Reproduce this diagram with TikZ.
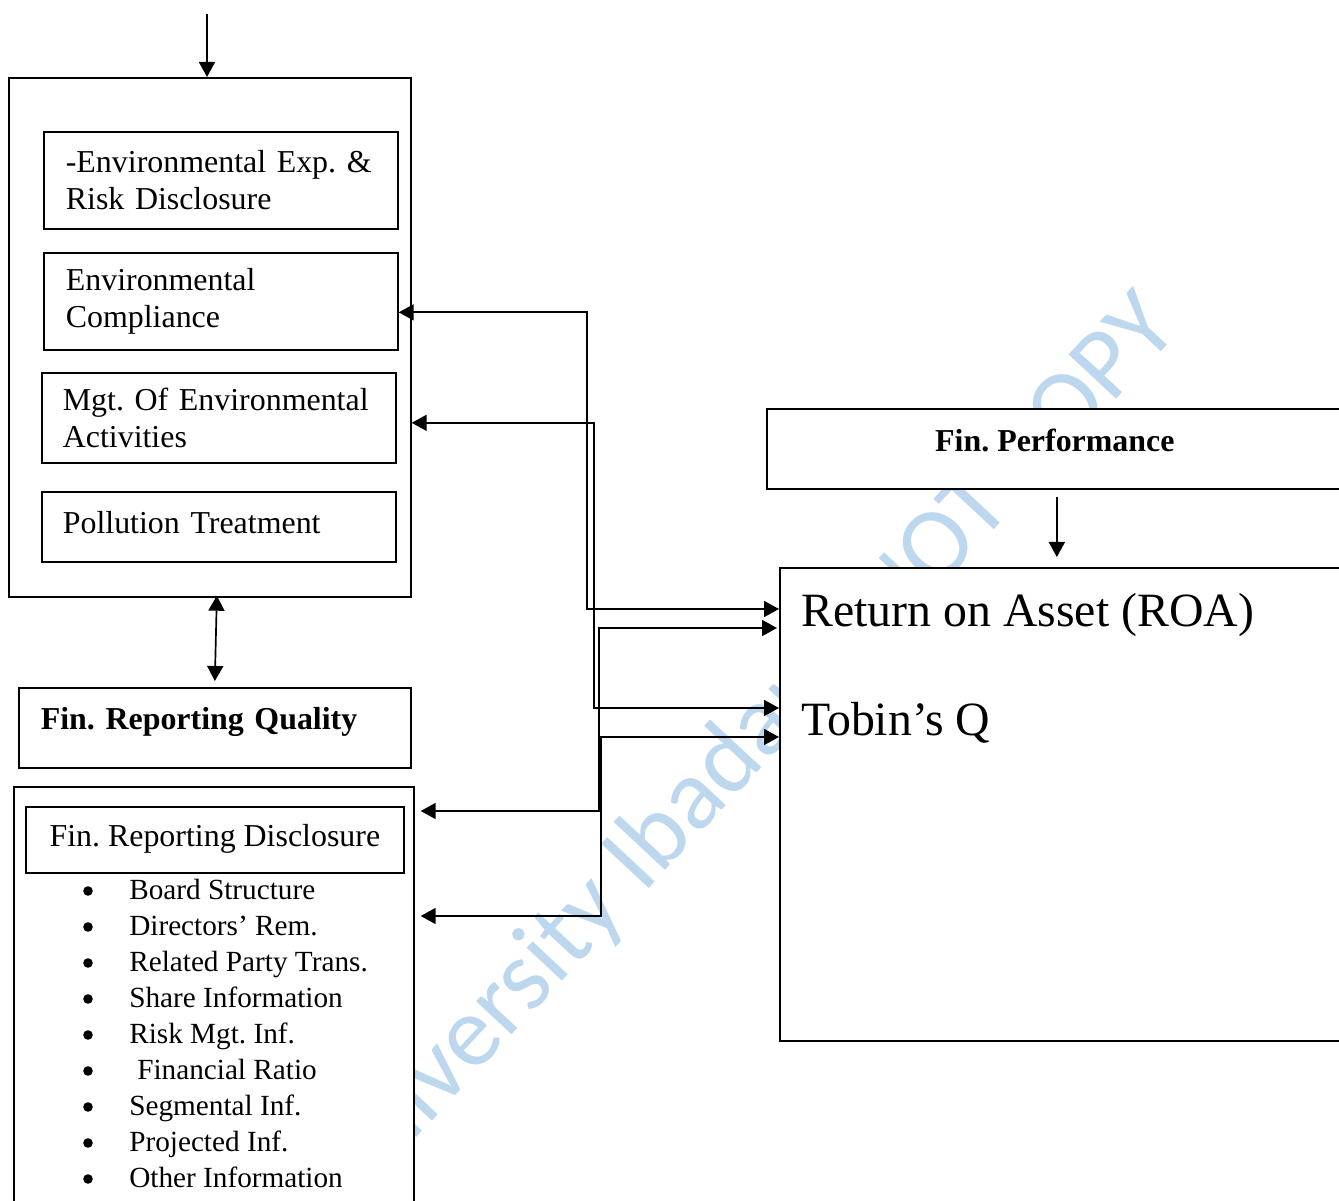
\documentclass[tikz,border=0pt]{standalone}
\usepackage{fontspec}
\setmainfont{Liberation Serif}
\newfontfamily\wmfont{Carlito}
\usetikzlibrary{calc,arrows.meta}
\definecolor{wmblue}{RGB}{189,215,238}
\frenchspacing
\tikzset{
	box/.style={draw, line width=1.2pt, fill=white, inner sep=0pt, anchor=north west},
	twoline/.style={box, align=left, inner xsep=5.5mm, font=\fontsize{22.7}{26}\selectfont},
	oneline/.style={box, inner ysep=0pt, font=\fontsize{22.7}{26}\selectfont},
	boldline/.style={oneline, font=\fontsize{22.7}{26}\selectfont\bfseries},
	bigtxt/.style={anchor=base west, inner sep=0pt, font=\fontsize{34}{40}\selectfont},
	item/.style={anchor=base west, inner sep=0pt, font=\fontsize{20.8}{26}\selectfont},
	dot/.style={circle, fill=black, inner sep=0pt, minimum size=2.4mm},
	arr/.style={line width=1.2pt, -{Triangle[length=3.75mm,width=4mm]}},
	dblarr/.style={line width=1.2pt, {Triangle[length=3.75mm,width=4mm]}-{Triangle[length=3.75mm,width=4mm]}},
	wmark/.style={color=wmblue, rotate=47, inner sep=0pt, font=\wmfont\fontsize{72}{72}\selectfont}
}

\begin{document}
\begin{tikzpicture}[x=0.25mm, y=-0.25mm]
		%%%%% START %%%%%
		\clip (0,0) rectangle (1339,1201);
		
		% watermark
		\node[wmark, anchor=base east] (wm1) at (836,688) {University Ibadan};
		\node[wmark, anchor=base west] (wm2) at (892,640) {NOT COPY};
		
		% environmental side
		\node[box, minimum width=100.5mm, minimum height=129.75mm] (env) at (8,77) {};
		\node[twoline, text width=77.5mm, minimum height=24.25mm] (exp) at (43,131) {-Environmental~Exp.~\&\\Risk Disclosure};
		\node[twoline, text width=77.5mm, minimum height=24.25mm] (cmp) at (43,252) {Environmental\\Compliance};
		\node[twoline, text width=78mm, inner xsep=5.25mm, minimum height=22.5mm] (mgt) at (41,372) {Mgt.~Of~Environmental\\Activities};
		\node[oneline, align=left, text width=78mm, inner xsep=5.25mm, text height=10.5mm, text depth=7mm] (pol) at (41,491) {Pollution Treatment};
		
		\coordinate (src) at (207,14);
		\draw[arr] (src) -- (src |- env.north);
		
		% reporting side
		\node[boldline, align=left, text width=87mm, inner xsep=5.5mm, text height=10.5mm, text depth=9.5mm] (frq) at (18,687) {Fin. Reporting Quality};
		\draw[dblarr] ($(env.south)+(7,-2)$) -- ($(frq.north)+(0,-6)$);
		
		\node[box, minimum width=100mm, minimum height=111mm] (frd) at (13,786) {};
		\node[oneline, minimum width=94.5mm, text height=10mm, text depth=6.5mm] (disc) at (25,806) {Fin. Reporting Disclosure};
		\foreach \txt [count=\i] in {Board Structure, Directors’ Rem., Related Party Trans., Share Information, Risk Mgt. Inf., \hspace{2mm}Financial Ratio, Segmental Inf., Projected Inf., Other Information}{
			\node[item] (b\i) at (129, 863+36*\i) {\txt};
			\node[dot] (d\i) at (88, 855+36*\i) {};
		}
		
		% performance side
		\node[boldline, minimum width=144mm, text height=10.75mm, text depth=9.25mm] (perf) at (766,408) {Fin. Performance};
		\node[box, minimum width=140.75mm, minimum height=118.25mm] (roa) at (779,567) {};
		\node[bigtxt] (roatxt) at (801,626) {Return on Asset (ROA)};
		\node[bigtxt] (tobin) at (801,735) {Tobin’s Q};
		\draw[arr] ($(perf.south)+(2,7)$) -- ($(perf.south |- roa.north)+(2,-10)$);
		
		% links
		\draw[dblarr] ($(cmp.east)+(0,11)$) -| ($(roa.north west)+(-192,42)$) -- ($(roa.north west)+(0,42)$);
		\draw[dblarr] ($(env.east |- mgt.east)+(0,5)$) -| ($(roa.north west)+(-185,141)$) -- ($(roa.north west)+(0,141)$);
		\draw[dblarr] ($(roa.north west)+(-2,61)$) -| ($(frd.north east)+(184,25)$) -- ($(frd.north east)+(6,25)$);
		\draw[dblarr] ($(roa.north west)+(0,170)$) -| ($(frd.north east)+(186,130)$) -- ($(frd.north east)+(6,130)$);
		
		%%%%% END %%%%%
\end{tikzpicture}
\end{document}
